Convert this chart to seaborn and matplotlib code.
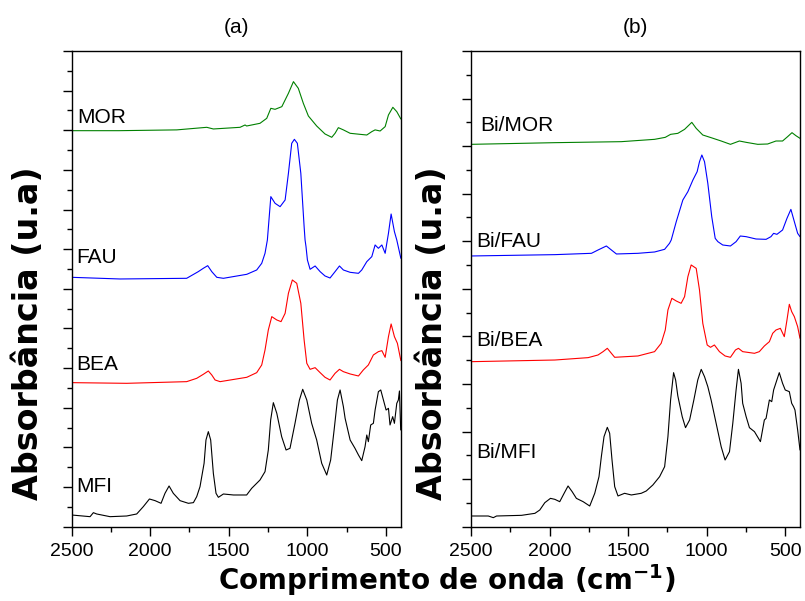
import matplotlib
matplotlib.use("Agg")
import matplotlib.pyplot as plt
from matplotlib.ticker import MultipleLocator
import pandas as pd
import seaborn as sns

# ---------------- FTIR spectra, (a) parent zeolites ----------------
mor_wn = [2500, 2200, 1831, 1640, 1598, 1428, 1396, 1386, 1301, 1258, 1232, 1205, 1162,
          1120, 1088, 1057, 1025, 993, 940, 887, 844, 823, 802, 770, 727, 664, 621,
          589, 568, 536, 504, 483, 455, 430, 404]
mor_abs = [9.99, 9.99, 10.01, 10.075, 10.033, 10.075, 10.134, 10.108, 10.176, 10.302, 10.554,
           10.529, 10.596, 10.933, 11.227, 11.059, 10.68, 10.361, 10.108, 9.907, 9.823,
           9.924, 10.066, 10.01, 9.924, 9.898, 9.881, 9.966, 10.01, 9.982, 10.092, 10.386,
           10.58, 10.47, 10.285]

fau_wn = [2500, 2192, 1768, 1694, 1662, 1634, 1608, 1576, 1534, 1385, 1322, 1290, 1269,
          1254, 1232, 1205, 1173, 1141, 1120, 1099, 1082, 1063, 1041, 1020, 1014, 1008,
          999, 982, 950, 918, 887, 855, 823, 795, 770, 727, 674, 653, 621, 589, 568, 547,
          525, 504, 483, 466, 445, 430, 404]
fau_abs = [6.291, 6.249, 6.266, 6.434, 6.518, 6.585, 6.434, 6.291, 6.266, 6.367, 6.476, 6.644,
           6.897, 7.233, 8.326, 8.158, 8.073, 8.242, 8.914, 9.671, 9.772, 9.671, 8.914,
           7.569, 7.233, 7.065, 6.728, 6.493, 6.577, 6.434, 6.325, 6.274, 6.434, 6.577,
           6.476, 6.417, 6.392, 6.476, 6.686, 6.813, 7.107, 7.023, 7.107, 6.897, 7.401,
           7.888, 7.443, 7.233, 6.77]

bea_wn = [2500, 2150, 1768, 1704, 1662, 1630, 1608, 1587, 1555, 1385, 1322, 1290, 1269,
          1248, 1226, 1194, 1167, 1141, 1120, 1095, 1067, 1041, 1020, 1003, 982, 950, 918,
          887, 855, 823, 795, 770, 727, 674, 643, 611, 579, 547, 525, 504, 483, 466, 445,
          426, 404]
bea_abs = [3.634, 3.617, 3.659, 3.743, 3.844, 3.928, 3.827, 3.701, 3.659, 3.769, 3.886, 4.080,
           4.458, 4.963, 5.299, 5.215, 5.173, 5.383, 5.888, 6.224, 6.140, 5.635, 4.710,
           4.122, 3.970, 4.012, 3.886, 3.769, 3.701, 3.869, 3.970, 3.911, 3.853, 3.802,
           3.954, 4.080, 4.332, 4.416, 4.441, 4.273, 4.794, 5.114, 4.794, 4.626, 4.189]

mfi_wn = [2500, 2383, 2362, 2341, 2256, 2150, 2086, 2044, 2005, 1969, 1931, 1906, 1880,
          1853, 1810, 1757, 1725, 1704, 1683, 1657, 1645, 1630, 1615, 1598, 1581, 1566,
          1534, 1470, 1386, 1354, 1301, 1269, 1248, 1233, 1216, 1194, 1163, 1135, 1110,
          1078, 1050, 1029, 1003, 972, 940, 908, 876, 851, 829, 808, 791, 770, 759, 727,
          696, 674, 653, 632, 621, 611, 596, 579, 568, 547, 532, 515, 498, 483, 473, 456,
          445, 430, 420, 413, 405]
mfi_abs = [0.295, 0.253, 0.354, 0.321, 0.253, 0.270, 0.321, 0.506, 0.699, 0.657, 0.590, 0.842,
           1.027, 0.842, 0.657, 0.590, 0.607, 0.758, 1.010, 1.599, 2.187, 2.398, 2.187,
           1.347, 0.842, 0.741, 0.825, 0.800, 0.800, 0.968, 1.178, 1.389, 1.935, 2.692,
           3.129, 2.860, 2.271, 1.935, 1.977, 2.608, 3.196, 3.466, 3.196, 2.608, 2.187,
           1.599, 1.304, 1.683, 2.440, 3.196, 3.449, 3.028, 2.734, 2.187, 1.977, 1.809,
           1.666, 2.019, 2.313, 2.145, 2.566, 2.608, 2.944, 3.407, 3.449, 3.196, 2.944,
           2.986, 2.566, 2.776, 2.608, 3.112, 3.196, 3.424, 2.440]

# ---------------- FTIR spectra, (b) bismuth-loaded zeolites ----------------
bimor_wn = [2500, 1966, 1543, 1331, 1263, 1229, 1183, 1140, 1094, 1066, 1024, 971, 907,
            848, 791, 748, 674, 611, 558, 516, 484, 456, 431, 405]
bimor_abs = [8.038, 8.073, 8.094, 8.143, 8.185, 8.248, 8.269, 8.353, 8.500, 8.374, 8.234,
             8.178, 8.108, 8.038, 8.108, 8.080, 8.038, 8.045, 8.108, 8.108, 8.199, 8.283,
             8.220, 8.164]

bifau_wn = [2500, 1966, 1733, 1691, 1638, 1606, 1574, 1437, 1331, 1267, 1236, 1225, 1193,
            1151, 1119, 1087, 1060, 1045, 1030, 1013, 992, 967, 945, 928, 897, 848, 812,
            785, 748, 685, 621, 590, 573, 552, 516, 488, 463, 441, 420, 405]
bifau_abs = [5.691, 5.719, 5.747, 5.817, 5.901, 5.817, 5.733, 5.747, 5.775, 5.831, 5.957,
             6.027, 6.412, 6.868, 7.043, 7.288, 7.463, 7.673, 7.814, 7.673, 7.218, 6.517,
             6.062, 5.992, 5.922, 5.901, 5.992, 6.111, 6.097, 6.048, 6.041, 6.097, 6.167,
             6.146, 6.237, 6.482, 6.671, 6.412, 6.167, 6.097]

bibea_wn = [2500, 1966, 1754, 1691, 1659, 1632, 1606, 1585, 1437, 1331, 1289, 1263, 1246,
            1221, 1193, 1162, 1140, 1119, 1098, 1066, 1045, 1024, 996, 975, 950, 918, 882,
            848, 816, 797, 770, 695, 664, 632, 600, 579, 558, 530, 505, 488, 473, 458, 441,
            420, 405]
bibea_abs = [3.469, 3.504, 3.554, 3.610, 3.680, 3.750, 3.645, 3.561, 3.589, 3.680, 3.855,
             4.135, 4.556, 4.801, 4.745, 4.696, 4.836, 5.256, 5.502, 5.431, 4.976, 4.275,
             3.820, 3.771, 3.820, 3.680, 3.589, 3.561, 3.715, 3.750, 3.680, 3.645, 3.680,
             3.799, 3.890, 4.065, 4.135, 4.170, 3.995, 4.345, 4.675, 4.521, 4.415, 4.205,
             3.960]

bimfi_wn = [2500, 2390, 2358, 2337, 2178, 2093, 2062, 2030, 1994, 1966, 1935, 1907, 1882,
            1856, 1829, 1786, 1744, 1712, 1685, 1670, 1653, 1632, 1617, 1602, 1585, 1564,
            1522, 1479, 1416, 1384, 1342, 1299, 1267, 1246, 1229, 1210, 1197, 1183, 1155,
            1134, 1108, 1081, 1056, 1034, 1013, 992, 971, 939, 907, 882, 854, 833, 812, 797,
            780, 770, 748, 727, 695, 657, 632, 621, 600, 585, 573, 537, 516, 499, 473, 458,
            446, 437, 420, 405]
bimfi_abs = [0.225, 0.225, 0.190, 0.225, 0.239, 0.281, 0.351, 0.505, 0.596, 0.575, 0.526,
             0.702, 0.856, 0.737, 0.596, 0.526, 0.435, 0.702, 1.052, 1.472, 1.893, 2.089,
             1.963, 1.402, 0.842, 0.646, 0.702, 0.667, 0.702, 0.751, 0.877, 1.052, 1.262,
             1.893, 2.664, 3.238, 3.084, 2.750, 2.313, 2.082, 2.243, 2.664, 3.084, 3.308,
             3.154, 2.944, 2.664, 2.173, 1.683, 1.402, 1.577, 2.173, 2.874, 3.308, 3.014,
             2.594, 2.313, 2.082, 1.998, 1.788, 2.243, 2.278, 2.664, 2.629, 2.874, 3.238,
             3.014, 2.874, 2.839, 2.594, 2.523, 2.453, 2.033, 1.612]

# sample names, label anchors (wavenumber, absorbance) and line colours
names_a = ["MOR", "FAU", "BEA", "MFI"]
names_b = ["Bi/MOR", "Bi/FAU", "Bi/BEA", "Bi/MFI"]
colors = ["#008000", "#0000ff", "#ff0000", "#000000"]
label_pos_a = [(2464, 10.18), (2473, 6.64), (2473, 3.95), (2473, 0.88)]
label_pos_b = [(2443, 8.32), (2464, 5.89), (2464, 3.80), (2464, 1.44)]


def spectra_frame(names, wns, absorb):
    parts = []
    for name, wn, ab in zip(names, wns, absorb):
        parts.append(pd.DataFrame({"amostra": name, "wn": wn, "abs": ab}))
    return pd.concat(parts, ignore_index=True)


df_a = spectra_frame(names_a, [mor_wn, fau_wn, bea_wn, mfi_wn],
                     [mor_abs, fau_abs, bea_abs, mfi_abs])
df_b = spectra_frame(names_b, [bimor_wn, bifau_wn, bibea_wn, bimfi_wn],
                     [bimor_abs, bifau_abs, bibea_abs, bimfi_abs])

sns.set_theme(style="ticks")
plt.rcParams["font.family"] = ["Liberation Sans", "DejaVu Sans"]
plt.rcParams["text.color"] = "black"
plt.rcParams["axes.labelcolor"] = "black"
plt.rcParams["xtick.color"] = "black"
plt.rcParams["ytick.color"] = "black"
plt.rcParams["axes.edgecolor"] = "black"

W, H = 805, 601
fig = plt.figure(figsize=(W / 100, H / 100), dpi=100)
ax_a = fig.add_axes([71.7 / W, 74.3 / H, 329 / W, 475.7 / H])
ax_b = fig.add_axes([471 / W, 74.3 / H, 329 / W, 475.7 / H])

panels = [
    (ax_a, df_a, names_a, label_pos_a, 12, "(a)"),
    (ax_b, df_b, names_b, label_pos_b, 10, "(b)"),
]

for ax, df, names, lpos, ytop, title in panels:
    sns.lineplot(data=df, x="wn", y="abs", hue="amostra", hue_order=names,
                 palette=colors, estimator=None, sort=False, legend=False,
                 linewidth=0.8, ax=ax)
    ax.set_xlim(2500, 405)
    ax.set_ylim(0, ytop)
    ax.xaxis.set_major_locator(MultipleLocator(500))
    ax.xaxis.set_minor_locator(MultipleLocator(250))
    ax.yaxis.set_major_locator(MultipleLocator(1))
    ax.yaxis.set_minor_locator(MultipleLocator(0.5))
    ax.tick_params(axis="both", which="major", direction="out", length=6.5,
                   width=1.0, colors="black", labelsize=14, pad=5)
    ax.tick_params(axis="both", which="minor", direction="out", length=3.8,
                   width=1.0, colors="black")
    ax.tick_params(axis="y", which="both", labelleft=False)
    ax.tick_params(top=False, right=False)
    for sp in ax.spines.values():
        sp.set_visible(True)
        sp.set_color("black")
        sp.set_linewidth(1.0)
    ax.set_xlabel("")
    ax.set_ylabel("")
    ax.set_title(title, fontsize=15, pad=12.7, color="black")
    for name, (x, y) in zip(names, lpos):
        ax.text(x, y, name, fontsize=15, ha="left", va="baseline", color="black")

# shared axis titles
bold = dict(family="DejaVu Sans", weight="bold", color="black")
fig.text(447 / W, 11 / H, "Comprimento de onda (cm$^{\\mathbf{-1}}$)", fontsize=20,
         ha="center", va="baseline", **bold)
for xc in (29, 432):
    fig.text(xc / W, 1 - 333 / H, "Absorbância (u.a)", fontsize=24, rotation=90,
             ha="center", va="center", **bold)

fig.savefig("out.png", dpi=100)
